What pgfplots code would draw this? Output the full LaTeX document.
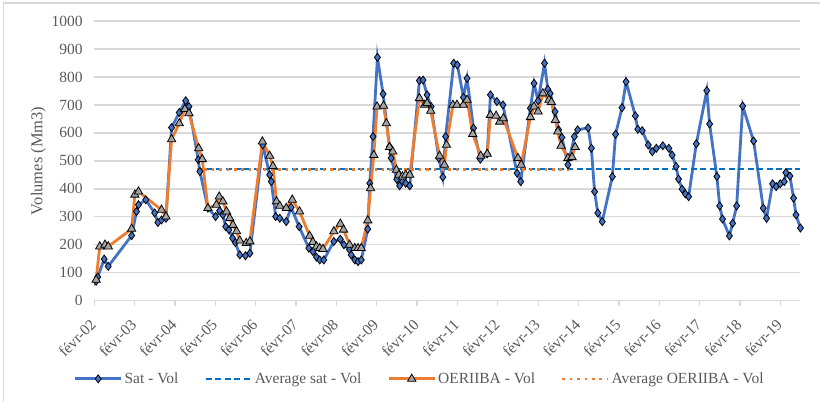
\documentclass[border=0pt]{standalone}
\usepackage{fontspec}
\setmainfont{Liberation Serif}
\usepackage{graphicx}
\usepackage{pgfplots}
\pgfplotsset{compat=1.18}
\definecolor{satblue}{HTML}{4472C4}
\definecolor{avgblue}{HTML}{0070C0}
\definecolor{oorange}{HTML}{ED7D31}
\definecolor{tri}{HTML}{A5A5A5}
\definecolor{txt}{HTML}{595959}
\definecolor{grd}{HTML}{D9D9D9}
\newcommand\rl[1]{\rotatebox{45}{#1}}
\begin{document}
\begin{tikzpicture}
\begin{axis}[
  at={(0,0)}, anchor=south west,
  scale only axis, width=706.7pt, height=280pt,
  xmin=2002.083, xmax=2019.58, ymin=0, ymax=1000,
  ytick={0,100,...,1000},
  xtick={2002.083,2003.083,2004.083,2005.083,2006.083,2007.083,2008.083,2009.083,2010.083,2011.083,2012.083,2013.083,2014.083,2015.083,2016.083,2017.083,2018.083,2019.083},
  xticklabels={\rl{févr-02},\rl{févr-03},\rl{févr-04},\rl{févr-05},\rl{févr-06},\rl{févr-07},\rl{févr-08},\rl{févr-09},\rl{févr-10},\rl{févr-11},\rl{févr-12},\rl{févr-13},\rl{févr-14},\rl{févr-15},\rl{févr-16},\rl{févr-17},\rl{févr-18},\rl{févr-19}},
  /pgf/number format/assume math mode=true,
  /pgf/number format/1000 sep={},
  axis x line*=bottom, axis y line*=left,
  y axis line style={draw=none}, ytick style={draw=none},
  x axis line style={draw=grd, line width=1.3pt},
  xtick style={draw=grd, line width=1.3pt},
  tick align=outside, major tick length=5pt,
  ymajorgrids, grid style={draw=grd, line width=1.3pt},
  tick label style={font=\fontsize{15.5}{18}\selectfont, text=txt},
  yticklabel style={xshift=-3pt},
  ylabel={Volumes (Mm3)},
  ylabel style={at={(axis description cs:-0.0792,0.5)}, anchor=center, font=\fontsize{16.5}{19}\selectfont, text=txt},
  legend columns=4,
  legend style={draw=none, fill=none, at={(axis description cs:0.461,-0.279)}, anchor=center,
    font=\fontsize{15.5}{18}\selectfont, text=txt,
    /tikz/every even column/.append style={column sep=24pt}},
  legend image code/.code={\draw[mark repeat=2,mark phase=2] plot coordinates {(0pt,0pt) (23pt,0pt) (46pt,0pt)};},
  x tick label style={anchor=north east, inner sep=0pt, yshift=-12pt, xshift=3pt},
]
\addplot[satblue, line width=2.8pt, mark=diamond*, mark size=4pt, mark options={fill=satblue, draw=black, line width=0.8pt}] coordinates {
(2002.06,57)(2002.13,70)(2002.17,85)(2002.33,149)(2002.43,123)(2003.01,233)(2003.13,319)(2003.18,343)(2003.36,361)(2003.58,314)(2003.66,280)(2003.75,289)(2003.86,295)
(2004.00,619)(2004.19,673)(2004.35,715)(2004.43,694)(2004.66,504)(2004.70,462)(2004.90,331)(2005.09,301)(2005.19,322)(2005.27,307)(2005.34,265)(2005.42,254)(2005.51,224)(2005.58,208)(2005.69,164)(2005.83,161)(2005.94,170)
(2006.26,557)(2006.43,450)(2006.47,426)(2006.58,301)(2006.68,295)(2006.84,283)(2006.96,334)(2007.16,265)(2007.40,188)(2007.50,176)(2007.59,156)(2007.67,146)(2007.77,146)
(2008.02,212)(2008.18,220)(2008.27,200)(2008.41,182)(2008.45,164)(2008.54,146)(2008.62,140)(2008.70,146)(2008.86,256)(2008.91,420)(2008.99,587)(2009.10,870)(2009.24,739)(2009.40,551)(2009.44,510)(2009.58,434)(2009.65,411)(2009.72,426)(2009.80,420)(2009.90,411)
(2010.14,787)(2010.23,789)(2010.33,736)(2010.43,694)(2010.62,510)(2010.72,442)(2010.79,587)(2010.99,849)(2011.08,843)(2011.23,727)(2011.32,795)(2011.48,617)(2011.65,506)(2011.82,525)(2011.90,736)
(2012.06,712)(2012.21,700)(2012.56,456)(2012.65,426)(2012.89,688)(2012.98,777)(2013.08,715)(2013.24,849)(2013.32,756)(2013.38,741)(2013.50,676)(2013.59,611)(2013.67,584)(2013.82,486)(2013.98,587)
(2014.06,611)(2014.32,618)(2014.40,545)(2014.48,390)(2014.56,314)(2014.67,283)(2014.92,444)(2015.00,595)(2015.16,690)(2015.26,783)(2015.49,661)(2015.55,613)(2015.66,608)(2015.81,557)(2015.91,533)
(2016.01,545)(2016.17,554)(2016.32,545)(2016.40,521)(2016.50,480)(2016.56,435)(2016.65,399)(2016.73,382)(2016.81,372)(2017.00,561)(2017.26,751)(2017.33,632)(2017.51,444)(2017.58,339)(2017.65,292)(2017.82,232)(2017.90,277)
(2018.00,339)(2018.15,696)(2018.42,571)(2018.66,331)(2018.74,295)(2018.89,418)(2018.98,408)(2019.08,418)(2019.18,426)(2019.22,458)(2019.32,446)(2019.41,367)(2019.47,307)(2019.58,260)
};
\addlegendentry{Sat - Vol}
\addplot[avgblue, line width=2.4pt, dash pattern=on 6pt off 3.5pt] coordinates {(2004.63,470)(2019.58,470)};
\addlegendentry{Average sat - Vol}
\addplot[oorange, line width=2.8pt, mark=triangle*, mark size=4.8pt, mark options={fill=tri, draw=black, line width=0.8pt}] coordinates {
(2002.06,60)(2002.13,75)(2002.22,194)(2002.35,200)(2002.43,194)(2003.01,257)(2003.09,379)(2003.18,390)(2003.75,325)(2003.86,301)
(2004.00,577)(2004.19,634)(2004.33,685)(2004.43,670)(2004.67,545)(2004.76,506)(2004.90,331)(2005.11,343)(2005.18,372)(2005.27,355)(2005.36,319)(2005.44,295)(2005.52,271)(2005.61,248)(2005.69,215)(2005.85,206)(2005.94,212)
(2006.25,569)(2006.43,518)(2006.51,481)(2006.60,355)(2006.68,339)(2006.84,331)(2006.99,361)(2007.17,319)(2007.42,232)(2007.50,210)(2007.59,194)(2007.67,188)(2007.75,185)
(2008.02,248)(2008.18,275)(2008.26,254)(2008.41,200)(2008.54,188)(2008.62,188)(2008.70,188)(2008.86,287)(2008.93,402)(2009.01,521)(2009.09,694)(2009.25,697)(2009.32,634)(2009.40,549)(2009.48,533)(2009.57,468)(2009.63,450)(2009.72,444)(2009.80,450)(2009.90,450)
(2010.14,724)(2010.27,700)(2010.33,706)(2010.42,679)(2010.64,518)(2010.76,486)(2010.81,557)(2010.97,700)(2011.07,700)(2011.23,700)(2011.32,718)(2011.46,596)(2011.66,518)(2011.82,525)(2011.90,664)
(2012.04,661)(2012.13,640)(2012.22,652)(2012.58,510)(2012.66,486)(2012.89,656)(2012.98,694)(2013.08,676)(2013.20,741)(2013.35,718)(2013.41,710)(2013.51,646)(2013.57,605)(2013.65,554)(2013.82,510)(2013.92,513)(2014.00,549)
};
\addlegendentry{OERIIBA - Vol}
\addplot[oorange, line width=2.6pt, dash pattern=on 2.6pt off 4.8pt] coordinates {(2004.63,470)(2013.86,470)};
\addlegendentry{Average OERIIBA - Vol}
\end{axis}
\draw[grd, line width=1.2pt] (-90.8pt,-101pt) -- (-90.8pt,298pt) -- (726.7pt,298pt);
\useasboundingbox (-94.3pt,-101pt) rectangle (726.7pt,301pt);
\end{tikzpicture}
\end{document}
